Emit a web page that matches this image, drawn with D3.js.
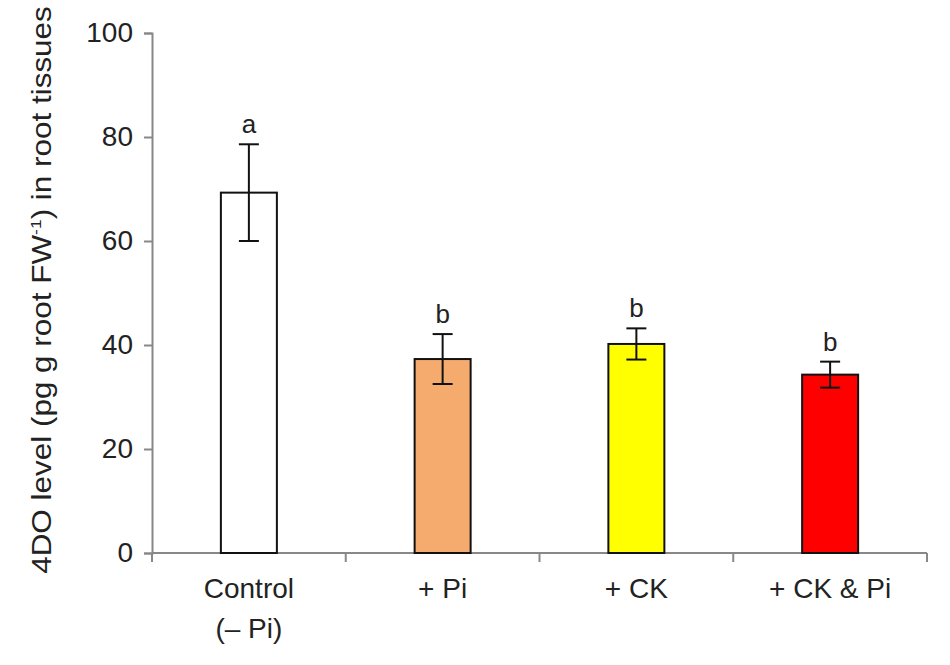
<!DOCTYPE html>
<html>
<head>
<meta charset="utf-8">
<script src="https://cdn.jsdelivr.net/npm/d3@7"></script>
<style>
  body { margin: 0; background: #fff; }
  text { font-family: "Liberation Sans", Arial, sans-serif; fill: #222; }
</style>
</head>
<body>
<script>
var categories = ["Control", "+ Pi", "+ CK", "+ CK & Pi"];
var subLabels = ["(\u2013 Pi)", "", "", ""];
var means = [69.3, 37.3, 40.2, 34.3];
var errors = [9.3, 4.8, 3.0, 2.5];
var letters = ["a", "b", "b", "b"];
var yTicks = [0, 20, 40, 60, 80, 100];
var fills = ["#ffffff", "#f5aa6e", "#ffff00", "#ff0000"];

var data = categories.map(function(c, i) {
  return {cat: c, sub: subLabels[i], mean: means[i], err: errors[i], letter: letters[i], fill: fills[i]};
});

var svg_width = 950, svg_height = 665;
var svg = d3.select("body").append("svg").attr("width", svg_width).attr("height", svg_height);
var margin = {top: 33, right: 23, bottom: 112, left: 152},
    width = svg_width - margin.left - margin.right,
    height = svg_height - margin.top - margin.bottom;
var g = svg.append("g").attr("transform", "translate(" + margin.left + "," + margin.top + ")");

var x = d3.scaleBand().domain(categories).range([0, width]);
var y = d3.scaleLinear().domain([0, 100]).range([height, 0]);
var barW = 56;

// y axis
var yAxis = g.append("g").call(d3.axisLeft(y).tickValues(yTicks).tickSize(8).tickPadding(11));
yAxis.select(".domain").attr("stroke", "#888").attr("stroke-width", 2);
yAxis.selectAll(".tick line").attr("stroke", "#888").attr("stroke-width", 2);
yAxis.selectAll(".tick text").style("font-size", "28px").style("fill", "#222")
  .style("font-family", "'Liberation Sans', Arial, sans-serif");

// x axis: ticks at the band edges
var xa = g.append("g").attr("transform", "translate(0," + height + ")");
xa.append("line").attr("x1", 0).attr("x2", width).attr("stroke", "#888").attr("stroke-width", 2);
var edges = categories.map(function(c) { return x(c); }).concat([width]);
xa.selectAll(".xt").data(edges).enter().append("line")
  .attr("x1", function(d) { return d; }).attr("x2", function(d) { return d; })
  .attr("y1", 0).attr("y2", 9).attr("stroke", "#888").attr("stroke-width", 2);

// bars
g.selectAll(".bar").data(data).enter().append("rect")
  .attr("class", "bar")
  .attr("x", function(d) { return x(d.cat) + x.bandwidth() / 2 - barW / 2; })
  .attr("y", function(d) { return y(d.mean); })
  .attr("width", barW)
  .attr("height", function(d) { return height - y(d.mean); })
  .attr("fill", function(d) { return d.fill; })
  .attr("stroke", "#111").attr("stroke-width", 2);

// error bars
var eb = g.selectAll(".err").data(data).enter().append("g").attr("class", "err")
  .attr("transform", function(d) { return "translate(" + (x(d.cat) + x.bandwidth() / 2) + ",0)"; });
eb.append("line").attr("x1", 0).attr("x2", 0)
  .attr("y1", function(d) { return y(d.mean + d.err); })
  .attr("y2", function(d) { return y(d.mean - d.err); })
  .attr("stroke", "#111").attr("stroke-width", 2);
eb.append("line").attr("x1", -10).attr("x2", 10)
  .attr("y1", function(d) { return y(d.mean + d.err); })
  .attr("y2", function(d) { return y(d.mean + d.err); })
  .attr("stroke", "#111").attr("stroke-width", 2);
eb.append("line").attr("x1", -10).attr("x2", 10)
  .attr("y1", function(d) { return y(d.mean - d.err); })
  .attr("y2", function(d) { return y(d.mean - d.err); })
  .attr("stroke", "#111").attr("stroke-width", 2);

// significance letters
eb.append("text")
  .attr("y", function(d) { return y(d.mean + d.err) - 11; })
  .attr("text-anchor", "middle")
  .style("font-size", "26px")
  .text(function(d) { return d.letter; });

// category labels
var cl = g.selectAll(".cl").data(data).enter().append("text")
  .attr("class", "cl")
  .attr("x", function(d) { return x(d.cat) + x.bandwidth() / 2; })
  .attr("y", height + 45)
  .attr("text-anchor", "middle")
  .style("font-size", "28px");
cl.append("tspan").text(function(d) { return d.cat; });
cl.append("tspan")
  .attr("x", function(d) { return x(d.cat) + x.bandwidth() / 2; })
  .attr("dy", 40)
  .text(function(d) { return d.sub; });

// y axis title, stretched to the reference length
var yt = svg.append("text")
  .attr("text-anchor", "middle")
  .style("font-size", "27px");
yt.append("tspan").text("4DO level (pg g root FW");
yt.append("tspan").attr("dy", -10).style("font-size", "15px").text("-1");
yt.append("tspan").attr("dy", 10).text(") in root tissues");
var tw = yt.node().getBBox().width;
var sx = 568 / tw;
yt.attr("transform", "translate(51,290) rotate(-90) scale(" + sx + ",1)");
</script>
</body>
</html>
